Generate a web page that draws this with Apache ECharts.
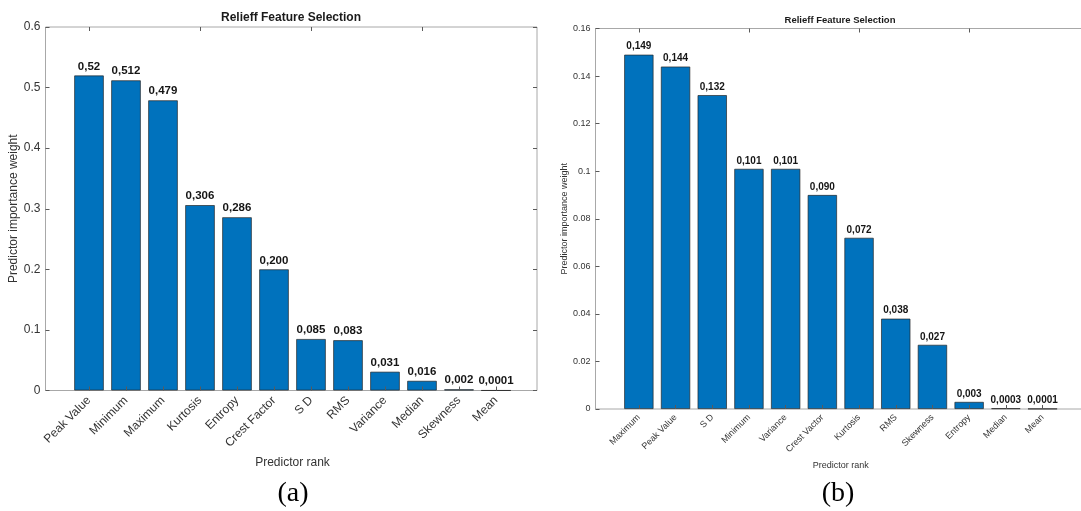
<!DOCTYPE html>
<html>
<head>
<meta charset="utf-8">
<title>Relieff Feature Selection</title>
<script src="https://cdn.jsdelivr.net/npm/echarts@6/dist/echarts.min.js"></script>
<style>
  html, body { margin: 0; padding: 0; background: #ffffff; }
  #chart { width: 1081px; height: 511px; }
</style>
</head>
<body>
<div id="chart"></div>
<script>
// Panel (a): predictor ranking with ReliefF weights
const categoriesA = ['Peak Value', 'Minimum', 'Maximum', 'Kurtosis', 'Entropy', 'Crest Factor',
                     'S D', 'RMS', 'Variance', 'Median', 'Skewness', 'Mean'];
const valuesA = [0.52, 0.512, 0.479, 0.306, 0.286, 0.200, 0.085, 0.083, 0.031, 0.016, 0.002, 0.0001];
const labelsA = ['0,52', '0,512', '0,479', '0,306', '0,286', '0,200', '0,085', '0,083', '0,031', '0,016', '0,002', '0,0001'];
const yAxisA = { min: 0, max: 0.6, interval: 0.1 };

// Panel (b): predictor ranking with ReliefF weights
const categoriesB = ['Maximum', 'Peak Value', 'S D', 'Minimum', 'Variance', 'Crest Vactor',
                     'Kurtosis', 'RMS', 'Skewness', 'Entropy', 'Median', 'Mean'];
const valuesB = [0.149, 0.144, 0.132, 0.101, 0.101, 0.090, 0.072, 0.038, 0.027, 0.003, 0.0003, 0.0001];
const labelsB = ['0,149', '0,144', '0,132', '0,101', '0,101', '0,090', '0,072', '0,038', '0,027', '0,003', '0,0003', '0,0001'];
const yAxisB = { min: 0, max: 0.16, interval: 0.02 };

const titleText = 'Relieff Feature Selection';
const xName = 'Predictor rank';
const yName = 'Predictor importance weight';

const FONT = '"Liberation Sans", Arial, Helvetica, sans-serif';
const BAR_COLOR = '#0072BD';
const FRAME_COLOR = '#a8a8a8';
const TICK_COLOR = '#5a5a5a';
const TEXT_COLOR = '#333333';

const chart = echarts.init(document.getElementById('chart'), null, { renderer: 'canvas' });

// Each panel uses two grids: an outer one for the boxed frame and value axis,
// and an inner one whose category slots line up with the bar positions.
// The frame of panel (b) runs past the right edge of the page.
const panels = [
  { cats: categoriesA, vals: valuesA, labels: labelsA, y: yAxisA,
    frame: { left: 45.5, top: 27, width: 491.5, height: 363.5 },
    bars:  { left: 70.5, top: 27, width: 444, height: 363.5 },
    fs: 12, labelFs: 11.5, nameFs: 12, xNameGap: 62, yNameGap: 24, labelMargin: 8 },
  { cats: categoriesB, vals: valuesB, labels: labelsB, y: yAxisB,
    frame: { left: 595.5, top: 28.5, width: 497, height: 380.5 },
    bars:  { left: 620.5, top: 28.5, width: 440.4, height: 380.5 },
    fs: 9, labelFs: 10, nameFs: 9, xNameGap: 48, yNameGap: 26, labelMargin: 7 }
];

const grid = [], xAxis = [], yAxis = [], series = [];

panels.forEach((p) => {
  const gFrame = grid.length;
  grid.push(Object.assign({ show: true, borderColor: FRAME_COLOR, borderWidth: 1,
                            backgroundColor: 'transparent', containLabel: false,
                            outerBoundsMode: 'none' }, p.frame));
  const gBars = grid.length;
  grid.push(Object.assign({ show: false, containLabel: false, outerBoundsMode: 'none' }, p.bars));

  // frame grid axes
  xAxis.push({ gridIndex: gFrame, type: 'value', min: 0, max: 1, show: false });
  yAxis.push({
    gridIndex: gFrame, type: 'value', position: 'left',
    min: p.y.min, max: p.y.max, interval: p.y.interval,
    axisLine: { show: false },
    axisTick: { show: true, inside: true, length: 4, lineStyle: { color: TICK_COLOR } },
    axisLabel: { fontFamily: FONT, fontSize: p.fs, color: TEXT_COLOR, margin: 5 },
    splitLine: { show: false },
    name: yName, nameLocation: 'middle', nameRotate: 90, nameGap: p.yNameGap,
    nameTextStyle: { fontFamily: FONT, fontSize: p.nameFs, color: TEXT_COLOR }
  });
  yAxis.push({
    gridIndex: gFrame, type: 'value', position: 'right',
    min: p.y.min, max: p.y.max, interval: p.y.interval,
    axisLine: { show: false },
    axisTick: { show: true, inside: true, length: 4, lineStyle: { color: TICK_COLOR } },
    axisLabel: { show: false },
    splitLine: { show: false }
  });

  // bar grid axes
  const xBottom = xAxis.length;
  xAxis.push({
    gridIndex: gBars, type: 'category', position: 'bottom', data: p.cats, z: 5,
    axisLine: { show: false },
    axisTick: { show: true, inside: true, alignWithLabel: true, length: 4,
                lineStyle: { color: TICK_COLOR } },
    axisLabel: { rotate: 45, interval: 0, fontFamily: FONT, fontSize: p.fs,
                 color: TEXT_COLOR, margin: p.labelMargin },
    name: xName, nameLocation: 'middle', nameGap: p.xNameGap,
    nameTextStyle: { fontFamily: FONT, fontSize: p.nameFs, color: TEXT_COLOR }
  });
  xAxis.push({
    gridIndex: gBars, type: 'category', position: 'top', data: p.cats, z: 5,
    axisLine: { show: false },
    axisTick: { show: true, inside: true, alignWithLabel: true, length: 4,
                lineStyle: { color: TICK_COLOR } },
    axisLabel: { show: false }
  });
  const yBars = yAxis.length;
  yAxis.push({ gridIndex: gBars, type: 'value', min: p.y.min, max: p.y.max,
               interval: p.y.interval, show: false });

  series.push({
    type: 'bar', xAxisIndex: xBottom, yAxisIndex: yBars,
    data: p.vals, barWidth: '80%',
    itemStyle: { color: BAR_COLOR, borderColor: 'rgba(35,35,35,0.85)', borderWidth: 0.8 },
    label: {
      show: true, position: 'top', distance: 3,
      formatter: (d) => p.labels[d.dataIndex],
      fontFamily: FONT, fontSize: p.labelFs, fontWeight: 'bold', color: '#151515'
    },
    emphasis: { disabled: true }
  });
});

// Panel titles and captions
const panelCenters = [291, 840];
const graphic = [];
panelCenters.forEach((cx, i) => {
  graphic.push({
    type: 'text', x: cx, y: i === 0 ? 18 : 20,
    style: { text: titleText, font: 'bold ' + (i === 0 ? 12 : 9.5) + 'px ' + FONT,
             fill: '#1a1a1a', align: 'center', verticalAlign: 'middle' }
  });
  graphic.push({
    type: 'text', x: i === 0 ? 293 : 838, y: 494,
    style: { text: i === 0 ? '(a)' : '(b)', font: '28px "Liberation Serif", "Times New Roman", serif',
             fill: '#000000', align: 'center', verticalAlign: 'middle' }
  });
});

chart.setOption({
  backgroundColor: '#ffffff',
  animation: false,
  grid, xAxis, yAxis, series, graphic
});
</script>
</body>
</html>
